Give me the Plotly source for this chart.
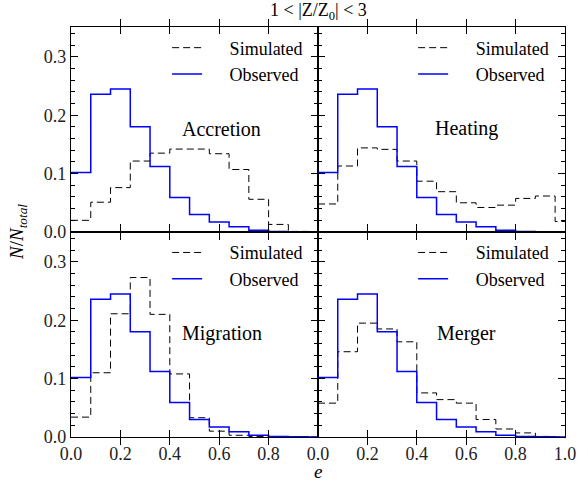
import plotly.graph_objects as go
from plotly.subplots import make_subplots

# bin edges (width 0.08)
edges = [round(0.08 * i, 2) for i in range(14)]

observed = [0.102, 0.236, 0.245, 0.180, 0.112, 0.059, 0.030, 0.017, 0.009, 0.003, 0.001, 0.0005, 0.0]
sim_accretion = [0.020, 0.051, 0.076, 0.1215, 0.135, 0.142, 0.142, 0.134, 0.107, 0.056, 0.013, 0.001, 0.0]
sim_heating = [0.048, 0.113, 0.144, 0.1415, 0.1215, 0.087, 0.069, 0.050, 0.042, 0.046, 0.0575, 0.0616, 0.018]
sim_migration = [0.034, 0.110, 0.211, 0.273, 0.210, 0.108, 0.033, 0.010, 0.003, 0.001, 0.0, 0.0, 0.0]
sim_merger = [0.058, 0.146, 0.195, 0.185, 0.163, 0.0755, 0.064, 0.058, 0.030, 0.0137, 0.007, 0.001, 0.0]

panel_names = ["Accretion", "Heating", "Migration", "Merger"]
sims = [sim_accretion, sim_heating, sim_migration, sim_merger]
positions = [(1, 1), (1, 2), (2, 1), (2, 2)]
x_ticks = [0.0, 0.2, 0.4, 0.6, 0.8, 1.0]
y_ticks = [0.0, 0.1, 0.2, 0.3]
y_labels = ["0.0", "0.1", "0.2", "0.3"]

FONT = "Liberation Serif, Times New Roman, serif"
PAD = "\u00a0\u00a0\u00a0\u00a0\u00a0"

fig = make_subplots(rows=2, cols=2, horizontal_spacing=0, vertical_spacing=0)

legend_pos = [(0.480, 0.994), (0.978, 0.994), (0.480, 0.4945), (0.978, 0.4945)]
for i, ((r, c), name, sim) in enumerate(zip(positions, panel_names, sims)):
    lg = "legend" if i == 0 else f"legend{i+1}"
    fig.add_trace(go.Scatter(x=edges, y=sim + [0], mode="lines", line_shape="hv",
                             line=dict(color="black", width=1, dash="7px,4px"),
                             name=PAD + "Simulated", legend=lg), row=r, col=c)
    fig.add_trace(go.Scatter(x=edges, y=observed + [0], mode="lines", line_shape="hv",
                             line=dict(color="#0000ff", width=1.5),
                             name=PAD + "Observed", legend=lg), row=r, col=c)
    ax_x = 0.61 if c == 1 else 0.60
    sfx = str(i + 1) if i else ""
    fig.add_annotation(x=ax_x, y=0.177, xref="x" + sfx, yref="y" + sfx,
                       text=name, showarrow=False, font=dict(family=FONT, size=20, color="black"))

axis_common = dict(showline=True, linecolor="black", linewidth=1.2, mirror="allticks",
                   ticks="inside", tickcolor="black", ticklen=7, tickwidth=1,
                   showgrid=False, zeroline=False,
                   tickfont=dict(family=FONT, size=18, color="#222"))
minor = dict(dtick=0.02, tick0=0, ticks="inside", ticklen=4, tickcolor="black")

for i, (r, c) in enumerate(positions):
    xtext = ["0.0", "0.2", "0.4", "0.6", "0.8", "1.0" if c == 2 else ""]
    fig.update_xaxes(range=[0, 1], tickvals=x_ticks, ticktext=xtext,
                     showticklabels=(r == 2), row=r, col=c, **axis_common)
    fig.update_yaxes(range=[0, 0.351], tickvals=y_ticks, ticktext=y_labels,
                     showticklabels=(c == 1), row=r, col=c, minor=minor, **axis_common)

# right-side y axes to carry the mirrored minor ticks
extra = {}
for i in range(4):
    sfx = str(i + 1) if i else ""
    k = 5 + i
    extra[f"yaxis{k}"] = dict(overlaying="y" + sfx, anchor="x" + sfx, side="right",
                              range=[0, 0.351], tickvals=y_ticks, showticklabels=False,
                              ticks="inside", ticklen=7, tickcolor="black", showgrid=False,
                              zeroline=False, showline=False, minor=minor)
    fig.add_trace(go.Scatter(x=edges, y=observed + [0], mode="lines", line_shape="hv",
                             line=dict(color="rgba(0,0,0,0)", width=0), hoverinfo="skip",
                             showlegend=False, xaxis="x" + sfx, yaxis=f"y{k}"))

leg_common = dict(font=dict(family=FONT, size=18, color="black"), bgcolor="rgba(0,0,0,0)",
                  xanchor="right", yanchor="top", tracegroupgap=0, itemwidth=30)
layout_legends = {}
for i, (lx, ly) in enumerate(legend_pos):
    key = "legend" if i == 0 else f"legend{i+1}"
    layout_legends[key] = dict(x=lx, y=ly, **leg_common)

fig.update_layout(
    width=588, height=485,
    margin=dict(l=71, r=23, t=27, b=48),
    plot_bgcolor="white", paper_bgcolor="white",
    showlegend=True,
    **layout_legends,
    **extra,
)

fig.add_annotation(x=0.5, y=1, xref="paper", yref="paper", yanchor="bottom", yshift=2,
                   text="1 &lt; |Z/Z<sub>0</sub>| &lt; 3", showarrow=False,
                   font=dict(family=FONT, size=18, color="black"))
fig.add_annotation(x=0.5, y=0, xref="paper", yref="paper", yanchor="top", yshift=-22,
                   text="<i>e</i>", showarrow=False, font=dict(family=FONT, size=19, color="black"))
fig.add_annotation(x=0, y=0.5, xref="paper", yref="paper", xanchor="center", xshift=-53,
                   text="<i>N</i>/<i>N<sub>total</sub></i>", textangle=-90, showarrow=False,
                   font=dict(family=FONT, size=19, color="black"))

fig.write_html("out.html")
